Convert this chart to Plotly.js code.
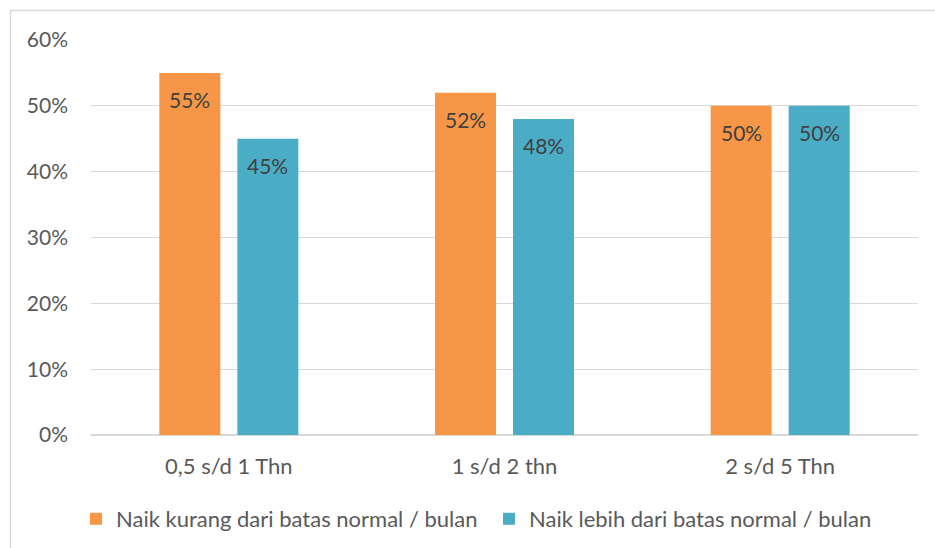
<!DOCTYPE html>
<html>
<head>
<meta charset="utf-8">
<script src="https://cdn.plot.ly/plotly-3.0.1.min.js"></script>
<style>html,body{margin:0;padding:0;background:#fff;}#chart{width:935px;height:548px;}</style>
</head>
<body>
<div id="chart"></div>
<script>
const categories = ["0,5 s/d 1 Thn", "1 s/d 2 thn", "2 s/d 5 Thn"];
const seriesNames = ["Naik kurang dari batas normal / bulan", "Naik lebih dari batas normal / bulan"];
const kurang = [0.55, 0.52, 0.50];
const lebih = [0.45, 0.48, 0.50];
const yTicks = [0, 0.1, 0.2, 0.3, 0.4, 0.5, 0.6];
const yTickLabels = ["0%", "10%", "20%", "30%", "40%", "50%", "60%"];

const FONT = "Lato, 'Open Sans', sans-serif";
const colors = ["#F79646", "#4BACC6"];
const seriesVals = [kurang, lebih];
const legendIds = ["legend", "legend2"];

const traces = seriesVals.map((vals, i) => ({
  type: "bar",
  name: seriesNames[i],
  x: categories,
  y: vals,
  marker: {color: colors[i]},
  legend: legendIds[i],
  hoverinfo: "skip"
}));

const annotations = [];
seriesVals.forEach((vals, i) => {
  vals.forEach((v, j) => {
    annotations.push({
      x: categories[j], y: v, xref: "x", yref: "y",
      text: Math.round(v * 100) + "%",
      showarrow: false, yanchor: "top",
      xshift: i === 0 ? -39 : 39, yshift: -12,
      font: {family: FONT, size: 21, color: "#404040"}
    });
  });
});

function legendAt(leftPx) {
  return {
    orientation: "h", xref: "container", yref: "container",
    x: leftPx / 935, xanchor: "left", y: 1 - 519 / 548, yanchor: "middle",
    font: {family: FONT, size: 22, color: "#595959"},
    bgcolor: "rgba(0,0,0,0)"
  };
}

const layout = {
  width: 935, height: 548,
  margin: {l: 91, r: 17, t: 40, b: 113},
  paper_bgcolor: "#fff", plot_bgcolor: "#fff",
  barmode: "group", bargap: 0.434, bargroupgap: 0.218,
  font: {family: FONT, size: 21, color: "#595959"},
  xaxis: {
    type: "category", showgrid: false, showline: false, ticks: "",
    ticklabelstandoff: 16,
    tickfont: {family: FONT, size: 22, color: "#595959"}
  },
  yaxis: {
    range: [0, 0.6], tickvals: yTicks, ticktext: yTickLabels,
    showgrid: true, gridcolor: "#D9D9D9", gridwidth: 1.3,
    zeroline: true, zerolinecolor: "#D9D9D9", zerolinewidth: 1.3,
    showline: false, ticks: "", ticklabelstandoff: 22,
    tickfont: {family: FONT, size: 21, color: "#595959"}
  },
  legend: legendAt(76),
  legend2: legendAt(489),
  showlegend: true,
  annotations: annotations,
  shapes: [{
    type: "rect", xref: "paper", yref: "paper",
    x0: (10.5 - 91) / 827, x1: 1.2, y0: -0.6, y1: (435 - 10.5) / 395,
    line: {color: "#D9D9D9", width: 1.5}, fillcolor: "rgba(0,0,0,0)", layer: "below"
  }]
};

Plotly.newPlot("chart", traces, layout, {displayModeBar: false, staticPlot: true});
</script>
</body>
</html>
